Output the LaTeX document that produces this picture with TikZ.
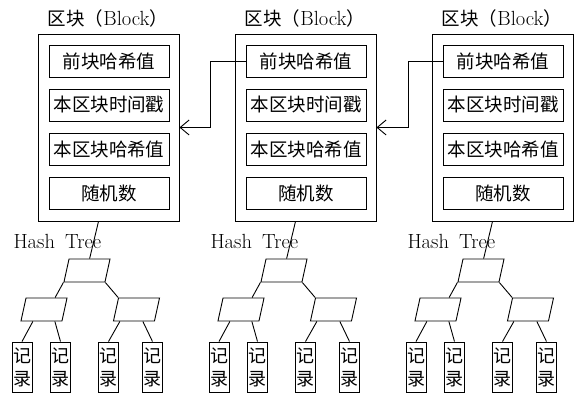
\documentclass[tikz,border=0pt]{standalone}
\usepackage{fontspec}
\newfontfamily\cjk{Noto Sans CJK SC}
\usetikzlibrary{arrows.meta}

\tikzset{
    block/.style={draw, line width=0.9pt, minimum width=141pt, minimum height=187pt, inner sep=0pt},
    field/.style={draw, line width=0.9pt, minimum width=120pt, minimum height=32pt, inner sep=0pt,
        font=\cjk\fontsize{18.5}{22}\selectfont},
    hashbox/.style={draw, line width=0.9pt, xslant=0.22, minimum width=41pt, minimum height=23pt, inner sep=0pt},
    record/.style={draw, line width=0.9pt, minimum width=20pt, minimum height=50pt, inner sep=0pt,
        align=center, font=\cjk\fontsize{18}{23}\selectfont},
    link/.style={line width=0.9pt},
    back/.style={line width=0.9pt, -{Straight Barb[length=9pt,width=15pt]}}
}
\newcommand{\zh}[1]{{\cjk\fontsize{18.5}{22}\selectfont #1}}

\begin{document}
\begin{tikzpicture}[x=1pt, y=-1pt, font=\fontsize{20.5}{24}\selectfont]
        \useasboundingbox (0,0) rectangle (582,403);

        \foreach \i/\dx in {1/0, 2/197, 3/394} {
            % block and its fields
            \node (h\i) at (108+\dx, 18) {\zh{区块（}Block\zh{）}};
            \node[block] (b\i) at (108.5+\dx, 127.5) {};
            \node[field] (f\i-1) at (109+\dx, 61) {前块哈希值};
            \node[field] (f\i-2) at (109+\dx, 105) {本区块时间戳};
            \node[field] (f\i-3) at (109+\dx, 149) {本区块哈希值};
            \node[field] (f\i-4) at (109+\dx, 193) {随机数};

            % hash tree
            \node[anchor=base west] (ht\i) at (10+\dx, 249) {Hash\enspace Tree};
            \node[hashbox] (t\i) at (87+\dx, 270.5) {};
            \node[hashbox] (l\i) at (44+\dx, 309.5) {};
            \node[hashbox] (r\i) at (136.5+\dx, 309.5) {};
            \node[record] (rec\i-1) at (22+\dx, 367) {记\\录};
            \node[record] (rec\i-2) at (60.5+\dx, 367) {记\\录};
            \node[record] (rec\i-3) at (108.5+\dx, 367) {记\\录};
            \node[record] (rec\i-4) at (152.5+\dx, 367) {记\\录};

            \draw[link] ([xshift=-10pt]b\i.south) -- (t\i.north);
            \draw[link] (t\i.south west) -- ([xshift=8.5pt]l\i.north);
            \draw[link] (t\i.south east) -- (r\i.north west);
            \draw[link] ([xshift=-8.5pt]l\i.south) -- (rec\i-1.north);
            \draw[link] ([xshift=13.5pt]l\i.south) -- (rec\i-2.north);
            \draw[link] ([xshift=-14pt]r\i.south) -- (rec\i-3.north);
            \draw[link] ([xshift=9pt]r\i.south) -- (rec\i-4.north);
        }

        % links to the previous block
        \draw[back] (f2-1.west) -- ++(-35,0) |- (b1.east);
        \draw[back] (f3-1.west) -- ++(-34,0) |- (b2.east);

    \end{tikzpicture}
\end{document}
